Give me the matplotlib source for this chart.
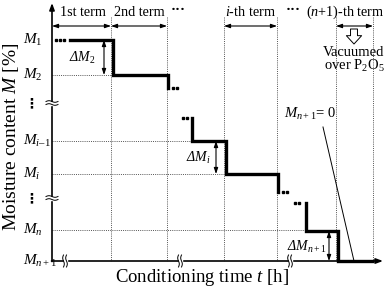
import numpy as np
import matplotlib.pyplot as plt

plt.rcParams['font.family'] = ['Liberation Serif', 'DejaVu Sans']
plt.rcParams['mathtext.fontset'] = 'custom'
plt.rcParams['mathtext.rm'] = 'Liberation Serif'
plt.rcParams['mathtext.it'] = 'Liberation Serif:italic'

# schematic drawn in pixel units of the 387x289 picture
x_axis_y = 261
y_axis_x = 52

# term boundaries on time axis
term_x = [52, 111, 167, 224, 277, 336, 373]
term_names = ['1st term', '2nd term', '$i$-th term', '($n$+1)-th term']
term_spans = [(52, 111), (111, 167), (224, 277), (336, 373)]
term_label_x = [83, 139, 250, 345]

# moisture levels
level_names = ['$M_1$', '$M_2$', '$M_{i\u2013 1}$', '$M_i$', '$M_n$', '$M_{n+1}$']
level_y = [40, 75, 141, 174, 230, 261]
grid_end_x = [None, 111, 192, 224, 306, None]

# step curve pieces (x, y) for the thick line
step_pieces = [
    ([70, 113, 113, 168, 168], [40, 40, 75, 75, 88]),
    ([192, 192, 226, 226, 278, 278], [118, 141, 141, 174, 174, 192]),
    ([306, 306, 338, 338, 372], [203, 231, 231, 261, 261]),
]
dot_pieces = [([56, 60, 64], [40, 40, 40]),
              ([173, 177], [88, 88]),
              ([183, 187], [118, 118]),
              ([283, 287], [192, 192]),
              ([295, 299], [203, 203])]

# delta M arrows: x, top y, bottom y, label, label x, label y
dm_arrows = [(104, 40, 75, '\u0394$M_2$', 82, 58),
             (216, 141, 174, '\u0394$M_i$', 198, 158),
             (329, 231, 261, '\u0394$M_{n+1}$', 307, 247)]

y_breaks = [103, 198]
x_breaks = [65, 180, 290]

fig = plt.figure(figsize=(3.87, 2.89), dpi=100)
ax = fig.add_axes([0, 0, 1, 1])
ax.set_xlim(0, 387)
ax.set_ylim(289, 0)
ax.axis('off')

dot_style = dict(color='#555555', lw=0.7, ls=(0, (1, 1.2)))

# vertical dotted lines
for x in term_x[1:]:
    ax.plot([x, x], [17, x_axis_y], **dot_style)

# horizontal dotted grid lines
for y, xe in zip(level_y, grid_end_x):
    if xe is not None:
        ax.plot([y_axis_x, xe], [y, y], **dot_style)

# axes with arrows
ax.annotate('', xy=(y_axis_x, 3), xytext=(y_axis_x, x_axis_y + 0.5),
            arrowprops=dict(arrowstyle='-|>,head_width=0.15,head_length=0.4',
                            lw=1.2, color='black', shrinkA=0, shrinkB=0))
ax.annotate('', xy=(383, x_axis_y), xytext=(y_axis_x - 0.5, x_axis_y),
            arrowprops=dict(arrowstyle='-|>,head_width=0.15,head_length=0.4',
                            lw=1.2, color='black', shrinkA=0, shrinkB=0))

# axis breaks
t = np.linspace(-1, 1, 20)
for yb in y_breaks:
    ax.fill_between([49, 55], yb - 1.5, yb + 1.5, color='white', zorder=3)
    for d in (-1.5, 1.5):
        ax.plot(y_axis_x + 6 * t, yb + d + 0.8 * np.sin(np.pi * t), color='black', lw=0.7, zorder=4)
for xb in x_breaks:
    ax.fill_betweenx([x_axis_y - 3, x_axis_y + 3], xb - 1.5, xb + 1.5, color='white', zorder=3)
    for d in (-1.5, 1.5):
        ax.plot(xb + d + 0.8 * np.sin(np.pi * t), x_axis_y + 6 * t, color='black', lw=0.7, zorder=4)

# step curve
for xs, ys in step_pieces:
    ax.plot(xs, ys, color='black', lw=2.4, solid_joinstyle='miter', zorder=5)
for xs, ys in dot_pieces:
    ax.plot(xs, ys, 's', color='black', ms=1.6, zorder=5)

# term arrows and labels
for (x0, x1), name, lx in zip(term_spans, term_names, term_label_x):
    ax.annotate('', xy=(x1, 26), xytext=(x0, 26),
                arrowprops=dict(arrowstyle='<|-|>,head_width=0.12,head_length=0.35',
                                lw=0.8, color='black', shrinkA=0, shrinkB=0))
    ax.text(lx, 12, name, fontsize=10.2, ha='center', va='center')
for x in (178, 293):
    ax.text(x, 10, '\u00b7\u00b7\u00b7', fontsize=11, ha='center', va='center', fontweight='bold')

# delta M arrows
for x, y0, y1, lab, lx, ly in dm_arrows:
    ax.annotate('', xy=(x, y1), xytext=(x, y0),
                arrowprops=dict(arrowstyle='<|-|>,head_width=0.12,head_length=0.35',
                                lw=0.8, color='black', shrinkA=0, shrinkB=0))
    ax.text(lx, ly, lab, fontsize=10, fontstyle='italic', ha='center', va='center')

# y level labels
for name, y in zip(level_names, level_y):
    ax.text(23, y, name, fontsize=11, ha='left', va='center')
for yb in y_breaks:
    ax.text(31, yb, '\u22ee', fontsize=10, ha='center', va='center', fontweight='bold',
            family=['DejaVu Sans'])

# hollow arrow and vacuum note
ax.annotate('', xy=(354, 44), xytext=(354, 29),
            arrowprops=dict(arrowstyle='simple,head_width=1.1,head_length=0.6,tail_width=0.5',
                            fc='white', ec='black', lw=0.7, shrinkA=0, shrinkB=0))
ax.text(354, 52, 'Vacuumed', fontsize=10.5, ha='center', va='center')
ax.text(354, 66, 'over P$_2$O$_5$', fontsize=10.5, ha='center', va='center')

# M_{n+1} = 0 note
ax.text(310, 114, '$M_{n+1}$= 0', fontsize=10.5, ha='center', va='center')
ax.plot([323, 354], [127, 261], color='black', lw=0.7)

# axis titles
ax.text(11, 137, 'Moisture content $M$ [%]', fontsize=14, rotation=90,
        ha='center', va='center')
ax.text(202, 277, 'Conditioning time $t$ [h]', fontsize=13.5, ha='center', va='center')

fig.savefig('out.png', dpi=100)
